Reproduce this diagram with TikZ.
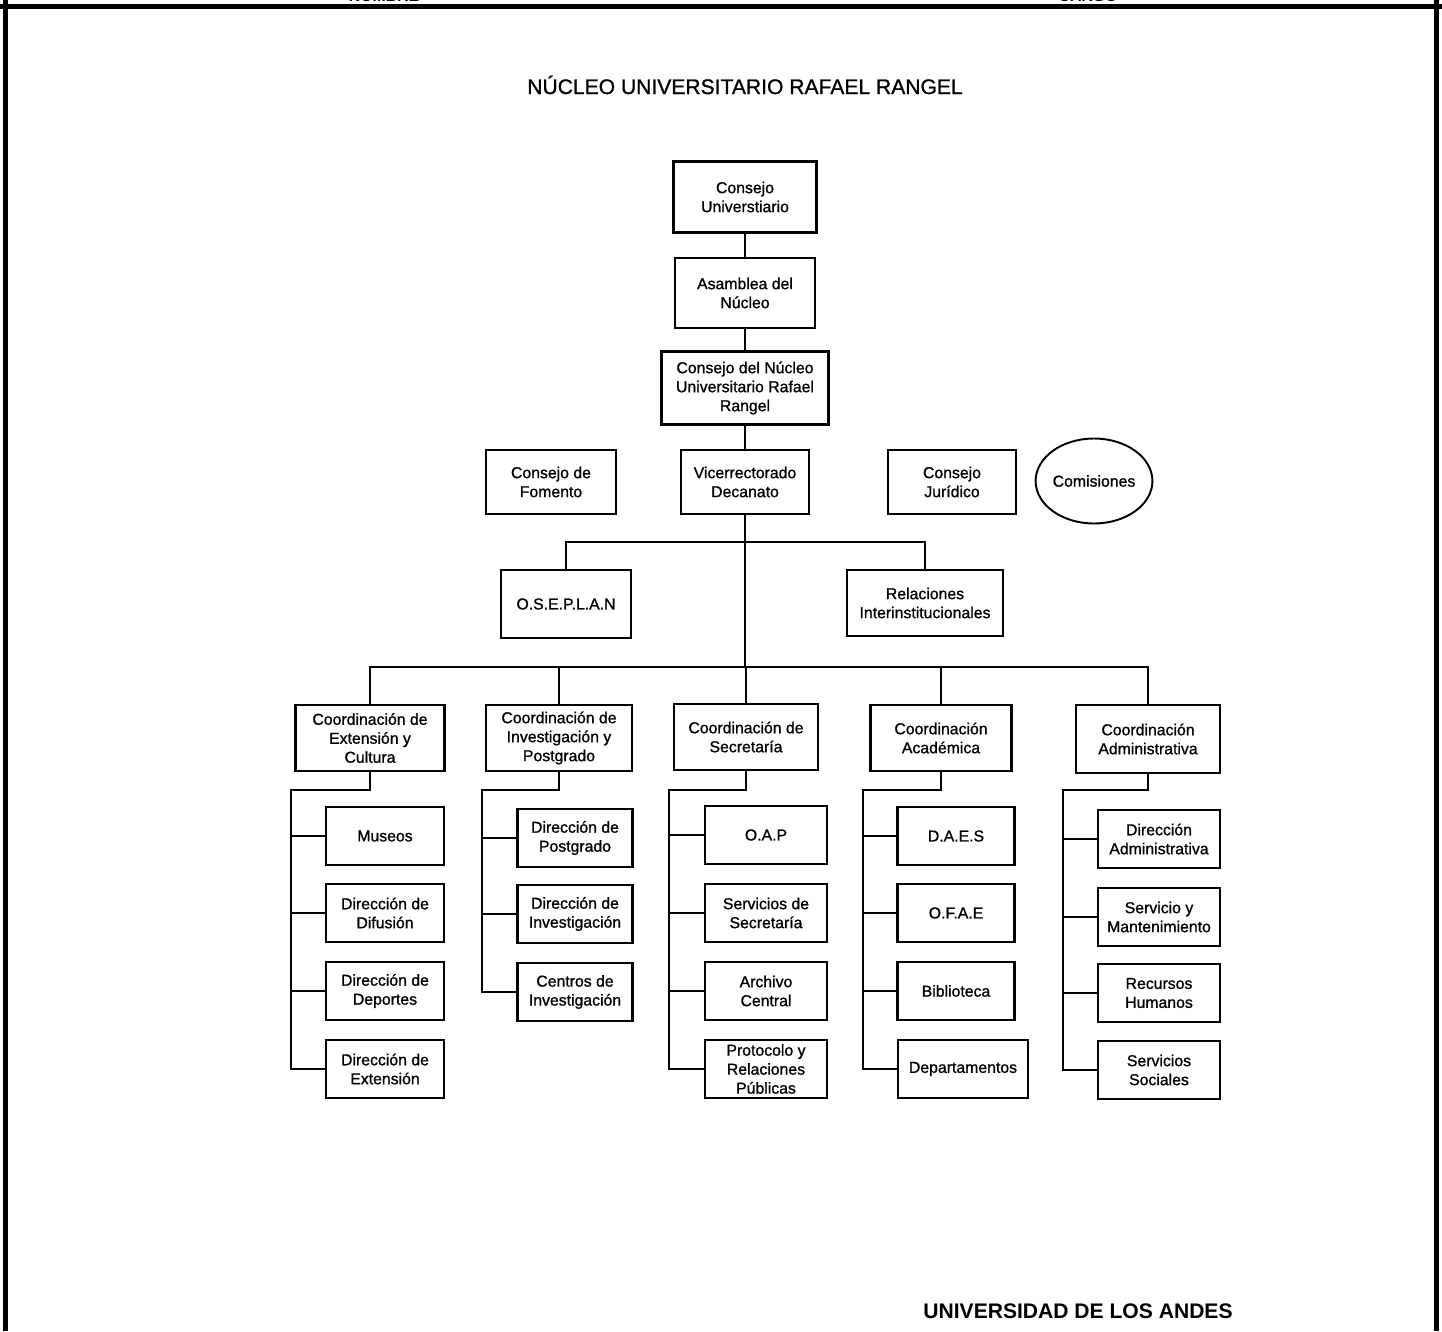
\documentclass[tikz,border=0pt]{standalone}
\usepackage{fontspec}
\setmainfont{Liberation Sans}
\newfontface\heavy{Liberation Sans}[FakeBold=1]
\usetikzlibrary{shapes.geometric}

\begin{document}
\begin{tikzpicture}[x=0.02cm,y=-0.02cm,
  unit/.style={draw,line width=1.2pt,align=center,inner sep=1pt,font=\heavy\fontsize{9}{10.8}\selectfont},
  coord/.style={unit,minimum height=1.32cm},
  sub/.style={unit,minimum height=1.16cm},
  link/.style={line width=1.4pt}]
\useasboundingbox (0,0) rectangle (1442,1331);
\draw[line width=2.4pt] (0,6.5) -- (1442,6.5);
\draw[line width=2.4pt] (5.5,0) -- (5.5,1331);
\draw[line width=2.4pt] (1436.5,0) -- (1436.5,1331);
\node[font=\bfseries\fontsize{9}{10}\selectfont,anchor=base] (nom) at (384,2) {NOMBRE};
\node[font=\bfseries\fontsize{9}{10}\selectfont,anchor=base] (car) at (1088,2) {CARGO};
\node[font=\heavy\fontsize{12}{14}\selectfont] (title) at (745,85) {NÚCLEO UNIVERSITARIO RAFAEL RANGEL};

\node[unit,minimum width=2.86cm,minimum height=1.42cm] (cu) at (745,197) {Consejo\\Universtiario};
\node[unit,minimum width=2.8cm,minimum height=1.4cm] (an) at (745,293) {Asamblea del\\Núcleo};
\node[unit,minimum width=3.34cm,minimum height=1.46cm] (cn) at (745,388) {Consejo del Núcleo\\Universitario Rafael\\Rangel};
\node[unit,minimum width=2.56cm,minimum height=1.28cm] (vd) at (745,482) {Vicerrectorado\\Decanato};
\node[unit,minimum width=2.6cm,minimum height=1.28cm] (cf) at (551,482) {Consejo de\\Fomento};
\node[unit,minimum width=2.56cm,minimum height=1.28cm] (cj) at (952,482) {Consejo\\Jurídico};
\node[ellipse,draw,line width=1.1pt,inner sep=0pt,minimum width=1.96cm,minimum height=1.7cm,font=\heavy\fontsize{9}{10.8}\selectfont] (com) at (1094,481) {Comisiones};
\node[unit,minimum width=2.6cm,minimum height=1.36cm] (os) at (566,604) {O.S.E.P.L.A.N};
\node[unit,minimum width=3.12cm,minimum height=1.32cm] (ri) at (925,603) {Relaciones\\Interinstitucionales};

\node[coord,minimum width=2.98cm] (ce) at (370,738) {Coordinación de\\Extensión y\\Cultura};
\node[coord,minimum width=2.92cm] (ci) at (559,738) {Coordinación de\\Investigación y\\Postgrado};
\node[coord,minimum width=2.88cm] (cs) at (746,737) {Coordinación de\\Secretaría};
\node[coord,minimum width=2.82cm] (ca) at (941,738) {Coordinación\\Académica};
\node[coord,minimum width=2.88cm,minimum height=1.36cm] (cad) at (1148,739) {Coordinación\\Administrativa};

\node[sub,minimum width=2.36cm] (e1) at (385,836) {Museos};
\node[sub,minimum width=2.36cm] (e2) at (385,913) {Dirección de\\Difusión};
\node[sub,minimum width=2.36cm] (e3) at (385,991) {Dirección de\\Deportes};
\node[sub,minimum width=2.36cm] (e4) at (385,1069) {Dirección de\\Extensión};

\node[sub,minimum width=2.3cm] (i1) at (575,838) {Dirección de\\Postgrado};
\node[sub,minimum width=2.3cm] (i2) at (575,914) {Dirección de\\Investigación};
\node[sub,minimum width=2.3cm] (i3) at (575,992) {Centros de\\Investigación};

\node[sub,minimum width=2.44cm] (s1) at (766,835) {O.A.P};
\node[sub,minimum width=2.44cm] (s2) at (766,913) {Servicios de\\Secretaría};
\node[sub,minimum width=2.44cm] (s3) at (766,991) {Archivo\\Central};
\node[sub,minimum width=2.44cm] (s4) at (766,1069) {Protocolo y\\Relaciones\\Públicas};

\node[sub,minimum width=2.34cm] (a1) at (956,836) {D.A.E.S};
\node[sub,minimum width=2.34cm] (a2) at (956,913) {O.F.A.E};
\node[sub,minimum width=2.34cm] (a3) at (956,991) {Biblioteca};
\node[sub,minimum width=2.6cm] (a4) at (963,1069) {Departamentos};

\node[sub,minimum width=2.44cm] (d1) at (1159,839) {Dirección\\Administrativa};
\node[sub,minimum width=2.44cm] (d2) at (1159,917) {Servicio y\\Mantenimiento};
\node[sub,minimum width=2.44cm] (d3) at (1159,993) {Recursos\\Humanos};
\node[sub,minimum width=2.44cm] (d4) at (1159,1070) {Servicios\\Sociales};

\node[font=\bfseries\fontsize{12}{14}\selectfont] (ula) at (1078,1311) {UNIVERSIDAD DE LOS ANDES};

\coordinate (b1) at (745,542);
\coordinate (b2) at (745,667);
\coordinate (ej) at (291,790);
\coordinate (ij) at (482,790);
\coordinate (sj) at (669,790);
\coordinate (aj) at (863,790);
\coordinate (dj) at (1063,790);

\draw[link] (cu) -- (an);
\draw[link] (an) -- (cn);
\draw[link] (cn) -- (vd);
\draw[link] (vd) -- (b2);
\draw[link] (os) |- (b1) -| (ri);
\draw[link] (ce) |- (b2) -| (cad);
\draw[link] (ci) -- (ci |- b2);
\draw[link] (cs) -- (cs |- b2);
\draw[link] (ca) -- (ca |- b2);

\draw[link] (ce) |- (ej) |- (e4);
\draw[link] (ej |- e1) -- (e1);
\draw[link] (ej |- e2) -- (e2);
\draw[link] (ej |- e3) -- (e3);

\draw[link] (ci) |- (ij) |- (i3);
\draw[link] (ij |- i1) -- (i1);
\draw[link] (ij |- i2) -- (i2);

\draw[link] (cs) |- (sj) |- (s4);
\draw[link] (sj |- s1) -- (s1);
\draw[link] (sj |- s2) -- (s2);
\draw[link] (sj |- s3) -- (s3);

\draw[link] (ca) |- (aj) |- (a4);
\draw[link] (aj |- a1) -- (a1);
\draw[link] (aj |- a2) -- (a2);
\draw[link] (aj |- a3) -- (a3);

\draw[link] (cad) |- (dj) |- (d4);
\draw[link] (dj |- d1) -- (d1);
\draw[link] (dj |- d2) -- (d2);
\draw[link] (dj |- d3) -- (d3);
\end{tikzpicture}
\end{document}
